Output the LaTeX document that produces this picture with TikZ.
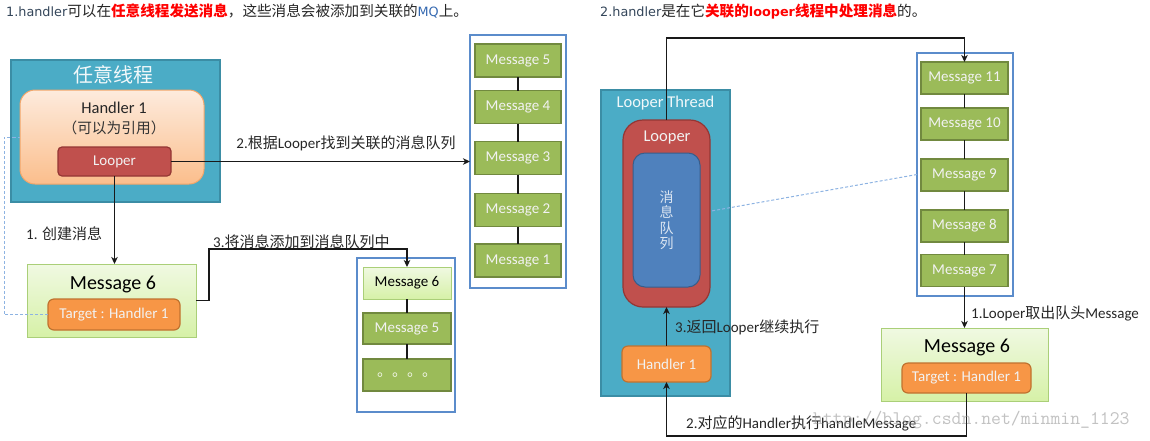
\documentclass[tikz,border=0pt]{standalone}
\usepackage{fontspec}
\setmainfont{Carlito}
\newfontfamily\zh{Noto Sans CJK SC}
\newfontfamily\tl{DejaVu Sans}
\usetikzlibrary{arrows.meta,calc}
\definecolor{tealc}{HTML}{4BACC6}
\definecolor{tealb}{HTML}{3B8DA5}
\definecolor{redc}{HTML}{C0504D}
\definecolor{redb}{HTML}{943634}
\definecolor{greenc}{HTML}{9BBB59}
\definecolor{greenb}{HTML}{71893F}
\definecolor{orangec}{HTML}{F79646}
\definecolor{orangeb}{HTML}{C0722F}
\definecolor{bluec}{HTML}{4F81BD}
\definecolor{blueb}{HTML}{385D8A}
\definecolor{qblue}{HTML}{5B8CCB}
\definecolor{dotblue}{HTML}{8DB3E2}
\definecolor{peachtop}{HTML}{FDEBDD}
\definecolor{peachbot}{HTML}{FBBE8C}
\definecolor{peachb}{HTML}{F2A66A}
\definecolor{lgtop}{HTML}{F0F9E2}
\definecolor{lgbot}{HTML}{D6F1A7}
\definecolor{lgb}{HTML}{AACF78}
\definecolor{ttlc}{HTML}{34465A}
\definecolor{mqc}{HTML}{3468B0}
\definecolor{titlered}{HTML}{FF0000}
\newcommand\zz[1]{{\zh #1}}
\begin{document}
\begin{tikzpicture}[x=1pt,y=-1pt,
  box/.style={inner sep=0pt, outer sep=0pt},
  conn/.style={line width=1.5pt, draw=black!90},
  arr/.style={conn, -{Stealth[length=7pt,width=6.5pt,inset=2pt]}},
  dotln/.style={draw=dotblue, line width=1pt, dash pattern=on 3pt off 2pt},
  tealbox/.style={box, fill=tealc, draw=tealb, line width=1.2pt},
  qbox/.style={box, draw=qblue, line width=1.5pt, fill=white},
  gmsg/.style={box, fill=greenc, draw=greenb, line width=1.2pt, text=white!95!black,
    font=\fontsize{15}{18}\selectfont, minimum height=33pt},
  lmsg/.style={box, top color=lgtop, bottom color=lgbot, draw=lgb, line width=1pt, text=black},
  obox/.style={box, fill=orangec, draw=orangeb, line width=1.2pt, rounded corners=6pt,
    text=white!95!black, font=\fontsize{15}{18}\selectfont},
  rbox/.style={box, fill=redc, draw=redb, line width=1.2pt, text=white!95!black},
  lbl/.style={inner sep=0pt, text=black!85, font=\fontsize{15}{18}\selectfont},
  wtxt/.style={inner sep=0pt, text=white!92!tealc},
]
\useasboundingbox (0,0) rectangle (1150,440);

% ---------- titles ----------
\node[anchor=base west, inner sep=0pt, font=\tl\fontsize{12.8}{15}\selectfont] (title1) at (6,16.5)
 {\textcolor{ttlc}{1.handler}{\zh\fontsize{14.6}{15}\selectfont\textcolor{black!85}{可以在}\textcolor{titlered}{\bfseries 任意线程发送消息}\textcolor{black!85}{，这些消息会被添加到关联的}}\textcolor{mqc}{MQ}{\zh\fontsize{14.6}{15}\selectfont\textcolor{black!85}{上。}}};
\node[anchor=base west, inner sep=0pt, font=\tl\fontsize{12.8}{15}\selectfont] (title2) at (600,16.5)
 {\textcolor{ttlc}{2.handler}{\zh\fontsize{14.6}{15}\selectfont\textcolor{black!85}{是在它}\textcolor{titlered}{\bfseries 关联的}}\textcolor{titlered}{\bfseries looper}{\zh\fontsize{14.6}{15}\selectfont\textcolor{titlered}{\bfseries 线程中处理消息}\textcolor{black!85}{的。}}};

% ---------- left: any thread ----------
\node[tealbox, minimum width=209pt, minimum height=142pt] (teal1) at (115.5,131) {};
\node[wtxt, font=\zh\fontsize{20}{22}\selectfont] (teal1lab) at (113,75) {任意线程};
\node[box, rounded corners=15pt, top color=peachtop, bottom color=peachbot, draw=peachb, line width=1pt,
  minimum width=184pt, minimum height=94pt] (peach) at (112,137) {};
\node[inner sep=0pt, font=\fontsize{16.5}{18}\selectfont, text=black!85] (h1lab) at (114,108) {Handler 1};
\node[inner sep=0pt, font=\zh\fontsize{14.7}{16}\selectfont, text=black!80] (h1sub) at (114,128) {（可以为引用）};
\node[rbox, rounded corners=4pt, minimum width=113pt, minimum height=29pt, font=\fontsize{15}{18}\selectfont] (looperL) at (114.5,161.5) {Looper};

% queue 1
\node[qbox, minimum width=96pt, minimum height=253pt] (queue1) at (518,161.5) {};
\node[gmsg, minimum width=86pt] (m5) at (518,60.5) {Message 5};
\node[gmsg, minimum width=86pt] (m4) at (518,107) {Message 4};
\node[gmsg, minimum width=86pt] (m3) at (518,158) {Message 3};
\node[gmsg, minimum width=86pt] (m2) at (518,210) {Message 2};
\node[gmsg, minimum width=86pt] (m1) at (518,260.5) {Message 1};
\draw[conn] (m5) -- (m4);
\draw[conn] (m4) -- (m3);
\draw[conn] (m3) -- (m2);
\draw[conn] (m2) -- (m1);

% message 6 (left)
\node[lmsg, minimum width=169pt, minimum height=73pt] (msg6L) at (111.5,300.5) {};
\node[inner sep=0pt, font=\fontsize{20}{22}\selectfont, text=black] (msg6Llab) at (113,284) {Message 6};
\node[obox, minimum width=132pt, minimum height=31pt] (targetL) at (114,314.5) {Target : Handler 1};

% queue 2
\node[qbox, minimum width=98pt, minimum height=154pt] (queue2) at (406,335) {};
\node[lmsg, minimum width=88pt, minimum height=32pt, font=\fontsize{15}{18}\selectfont] (q2m6) at (407,283) {Message 6};
\node[gmsg, minimum width=88pt, minimum height=31pt] (q2m5) at (407,328.5) {Message 5};
\node[gmsg, minimum width=88pt, minimum height=32pt, text=white!85!greenc, font=\zh\fontsize{15}{18}\selectfont] (q2dots) at (407,375) {。。。。};
\draw[conn] (q2m6) -- (q2m5);
\draw[conn] (q2m5) -- (q2dots);

% left connectors
\coordinate (c3) at (209,249);
\coordinate (d1) at (4,137);
\draw[arr] (looperL.east) -- (queue1.west |- looperL.east);
\draw[arr] (looperL.south) -- (looperL.south |- msg6L.north);
\draw[arr] (msg6L.east) -| (c3) -| (q2m6.north);
\draw[dotln] (targetL.west) -| (d1) -- (d1 -| peach.west);
\node[lbl] (lab2) at (346,143) {2.\zz{根据}Looper\zz{找到关联的消息队列}};
\node[lbl, anchor=west] (lab1) at (26,234) {1. \zz{创建消息}};
\node[lbl, anchor=west] (lab3) at (213,242) {3.\zz{将消息添加到消息队列中}};

% ---------- right: looper thread ----------
\node[tealbox, minimum width=129pt, minimum height=306pt] (teal2) at (665.5,243) {};
\node[wtxt, font=\fontsize{16.5}{18}\selectfont] (teal2lab) at (665.5,103) {Looper Thread};
\node[box, draw=none, minimum width=1pt, minimum height=1pt] (mqanchor) at (700,213) {};
\node[qbox, minimum width=96pt, minimum height=243pt] (queue3) at (965,174.5) {};
\draw[dotln] (queue3.west) -- (mqanchor.center);
\node[rbox, rounded corners=20pt, minimum width=87pt, minimum height=187pt] (looperR) at (666.5,213.5) {};
\node[inner sep=0pt, text=white!95!black, font=\fontsize{16.5}{18}\selectfont] (looperRlab) at (667,138) {Looper};
\node[box, fill=bluec, draw=blueb, line width=1pt, rounded corners=12pt, minimum width=67pt, minimum height=134pt] (mqbox) at (666.5,220) {};
\node[inner sep=0pt, align=center, text=white!80!bluec, font=\zh\fontsize{14}{15.5}\selectfont] (mqtext) at (666.5,220) {消\\息\\队\\列};

\node[gmsg, minimum width=87pt, minimum height=32pt] (m11) at (964.5,78) {Message 11};
\node[gmsg, minimum width=87pt, minimum height=32pt] (m10) at (964.5,124) {Message 10};
\node[gmsg, minimum width=87pt, minimum height=32pt] (m9) at (964.5,175) {Message 9};
\node[gmsg, minimum width=87pt, minimum height=32pt] (m8) at (964.5,226) {Message 8};
\node[gmsg, minimum width=87pt, minimum height=32pt] (m7) at (964.5,270.5) {Message 7};
\draw[conn] (m11) -- (m10);
\draw[conn] (m10) -- (m9);
\draw[conn] (m9) -- (m8);
\draw[conn] (m8) -- (m7);

\node[lmsg, minimum width=167pt, minimum height=73pt] (msg6R) at (964.5,364.5) {};
\node[inner sep=0pt, font=\fontsize{20}{22}\selectfont, text=black] (msg6Rlab) at (967,347.5) {Message 6};
\node[obox, minimum width=129pt, minimum height=30pt] (targetR) at (966.5,378) {Target : Handler 1};
\node[obox, minimum width=89pt, minimum height=36pt] (handlerR) at (666.5,364) {Handler 1};

\coordinate (c4) at (800,38);
\coordinate (c5) at (800,436);
\draw[arr] (looperR.north) |- (c4) -| (m11.north);
\draw[arr] (m7.south) -- (msg6R.north);
\draw[arr] (targetR.south) |- (c5) -| (handlerR.south);
\draw[arr] (handlerR.north) -- (looperR.south);

\node[lbl, anchor=west] (lab4) at (971,313) {1.Looper\zz{取出队头}Message};
\node[lbl, anchor=west] (lab5) at (675,327) {3.\zz{返回}Looper\zz{继续执行}};
\node[lbl, anchor=west] (lab6) at (686,423) {2.\zz{对应的}Handler\zz{执行}handleMessage};
\node[anchor=west, inner sep=0pt, text=black!40, opacity=0.6, font=\ttfamily\fontsize{19.2}{20}\selectfont] (wmark) at (813,420) {http://blog.csdn.net/minmin\_1123};
\end{tikzpicture}
\end{document}
